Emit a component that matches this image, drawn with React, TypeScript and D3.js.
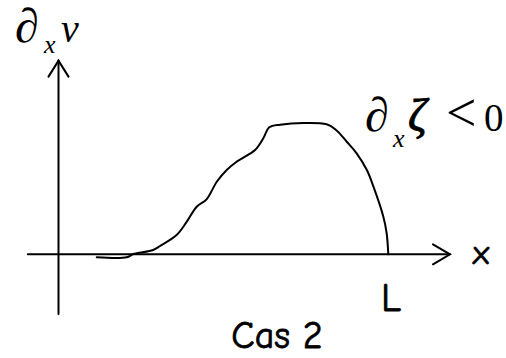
import React from "react";
import * as d3 from "d3";

const curveX = [0.116, 0.207, 0.227, 0.287, 0.308, 0.358, 0.389, 0.419, 0.449, 0.48, 0.51, 0.54, 0.596, 0.621, 0.639, 0.672, 0.813, 0.844, 0.874, 0.904, 0.935, 0.955, 0.985, 0.995, 1.0];
const curveY = [-0.023, -0.023, 0.002, 0.033, 0.064, 0.148, 0.251, 0.366, 0.423, 0.558, 0.648, 0.712, 0.802, 0.892, 0.977, 0.997, 1.0, 0.951, 0.866, 0.777, 0.648, 0.52, 0.289, 0.162, 0.0];
const xAxisExtent = [-0.093, 1.187];
const yAxisExtent = [-0.46, 1.49];
const xLabel = "x";
const endLabel = "L";
const title = "Cas 2";

const W = 506;
const H = 358;

export default function App() {
  const x = d3.scaleLinear().domain([0, 1]).range([58.5, 388.3]);
  const y = d3.scaleLinear().domain([0, 1]).range([254.3, 124.3]);
  const pts = curveX.map((v, i) => [v, curveY[i]] as [number, number]);
  const line = d3
    .line<[number, number]>()
    .x((d) => x(d[0]))
    .y((d) => y(d[1]))
    .curve(d3.curveCatmullRom.alpha(0.5));

  const x0 = x(xAxisExtent[0]);
  const x1 = x(xAxisExtent[1]);
  const yb = y(yAxisExtent[0]);
  const yt = y(yAxisExtent[1]);
  const ax = x(0);
  const ay = y(0);
  const serif = "'Liberation Serif', 'Times New Roman', serif";
  const comic = "'Comic Sans MS', 'Comic Neue', 'DejaVu Sans', sans-serif";

  return (
    <svg
      width={W}
      height={H}
      viewBox={`0 0 ${W} ${H}`}
      style={{ position: "fixed", left: 0, top: 0, background: "#fff" }}
    >
      <rect x={0} y={0} width={W} height={H} fill="#fff" />
      <g stroke="#000" strokeWidth={2} fill="none" strokeLinecap="round">
        <line x1={ax} y1={yb} x2={ax} y2={yt} />
        <polyline points={`${ax - 10},${yt + 16} ${ax},${yt} ${ax + 10},${yt + 16}`} />
        <line x1={x0} y1={ay} x2={x1} y2={ay} />
        <polyline points={`${x1 - 17},${ay - 10} ${x1},${ay} ${x1 - 17},${ay + 10}`} />
      </g>
      <path d={line(pts) || ""} fill="none" stroke="#000" strokeWidth={2} strokeLinejoin="round" strokeLinecap="round" />

      <text fontFamily={serif} fill="#000">
        <tspan x={15} y={42} fontSize={48}>∂</tspan>
        <tspan x={44} y={53} fontStyle="italic" fontSize={26}>x</tspan>
        <tspan x={61} y={42} fontStyle="italic" fontSize={40}>v</tspan>
      </text>
      <text fontFamily={serif} fill="#000">
        <tspan x={365} y={131} fontSize={48}>∂</tspan>
        <tspan x={393} y={147} fontStyle="italic" fontSize={26}>x</tspan>
        <tspan x={408} y={131} fontStyle="italic" fontSize={46} stroke="#000" strokeWidth={0.9}>ζ</tspan>
        <tspan x={446} y={131} fontSize={54}>&lt;</tspan>
        <tspan x={484} y={131} fontSize={39}>0</tspan>
      </text>
      <g fontFamily={comic} fill="#000" stroke="#000" strokeWidth={0.8} textAnchor="middle">
        <text x={481} y={264} fontSize={34}>{xLabel}</text>
        <text x={391} y={311} fontSize={40}>{endLabel}</text>
        <text x={277} y={348} fontSize={38}>{title}</text>
      </g>
    </svg>
  );
}
